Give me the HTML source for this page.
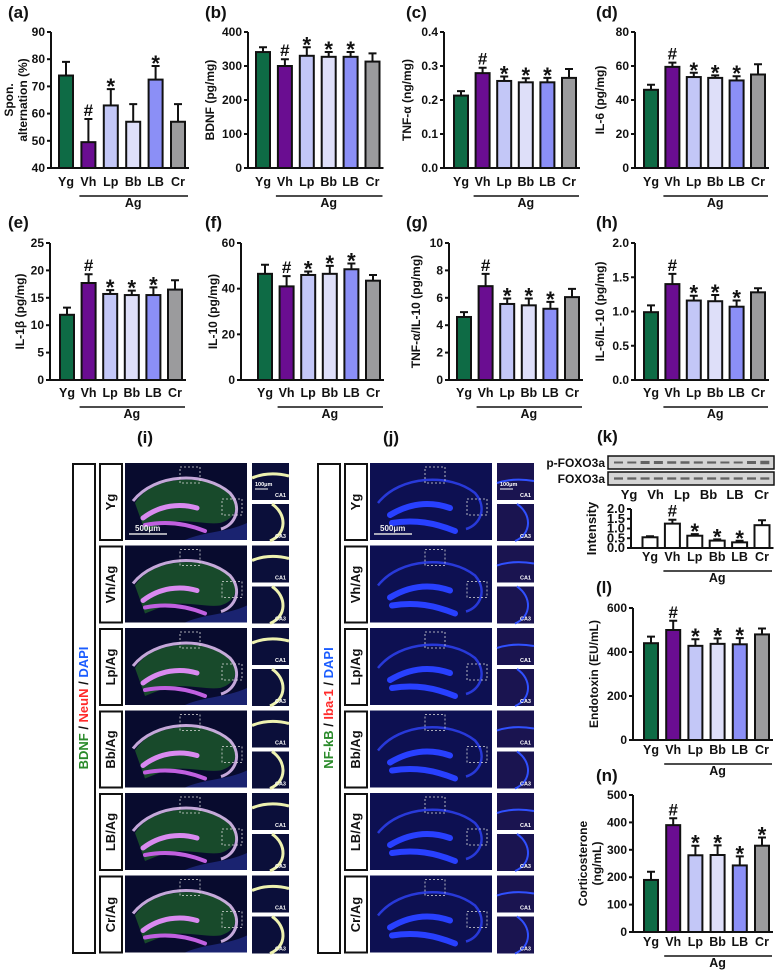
<!DOCTYPE html>
<html><head><meta charset="utf-8"><style>
html,body{margin:0;padding:0;background:#fff;}
svg{display:block;font-family:"Liberation Sans",sans-serif;font-weight:bold;}
</style></head><body>
<svg id="fig" width="777" height="971" viewBox="0 0 777 971">
<defs>
<clipPath id="imgclip"><rect width="122" height="77"/></clipPath>
</defs>
</svg>
<script>
const groups = ["Yg","Vh","Lp","Bb","LB","Cr"];
const colors = ["#0e6b45","#6a0d91","#c3c7f7","#dedff9","#8b8ff6","#9b9b9d"];
// Data per panel
const aVals=[74,49.5,63,57,72.5,57], aErr=[5,8.5,6,6.5,5,6.5], aMarks=["","#","*","","*",""];
const bVals=[341,300,330,327,327,313], bErr=[14,20,25,14,14,24], bMarks=["","#","*","*","*",""];
const cVals=[0.213,0.279,0.256,0.252,0.252,0.265], cErr=[0.013,0.016,0.013,0.012,0.013,0.026], cMarks=["","#","*","*","*",""];
const dVals=[46,59.5,53.5,53,51.5,55], dErr=[3,2.5,2.5,1.5,2.5,6], dMarks=["","#","*","*","*",""];
const eVals=[11.9,17.7,15.7,15.5,15.5,16.5], eErr=[1.3,1.6,0.7,0.8,1.4,1.7], eMarks=["","#","*","*","*",""];
const fVals=[46.5,41,46,46.5,48.5,43.5], fErr=[4,4.5,1.5,3.5,2.5,2.5], fMarks=["","#","*","*","*",""];
const gVals=[4.6,6.85,5.55,5.45,5.2,6.05], gErr=[0.35,0.9,0.4,0.5,0.5,0.6], gMarks=["","#","*","*","*",""];
const hVals=[0.99,1.4,1.16,1.15,1.07,1.28], hErr=[0.1,0.15,0.07,0.09,0.09,0.06], hMarks=["","#","*","*","*",""];
const kVals=[0.55,1.25,0.63,0.38,0.29,1.17], kErr=[0.05,0.2,0.08,0.06,0.08,0.25], kMarks=["","#","*","*","*",""];
const lVals=[440,500,428,437,435,480], lErr=[30,42,30,25,28,27], lMarks=["","#","*","*","*",""];
const nVals=[190,390,280,281,243,315], nErr=[30,25,35,35,33,30], nMarks=["","#","*","*","*","*"];
const aTicks=[40,50,60,70,80,90], bTicks=[0,100,200,300,400], cTicks=["0.0","0.1","0.2","0.3","0.4"];
const dTicks=[0,20,40,60,80], eTicks=[0,5,10,15,20,25], fTicks=[0,20,40,60], gTicks=[0,2,4,6,8,10];
const hTicks=["0.0","0.5","1.0","1.5","2.0"], kTicks=["0.0","0.5","1.0","1.5","2.0"], lTicks=[0,200,400,600], nTicks=[0,100,200,300,400,500];

const NS="http://www.w3.org/2000/svg";
const svg=document.getElementById("fig");
function mk(tag,attrs,parent,text){const e=document.createElementNS(NS,tag);for(const k in attrs)e.setAttribute(k,attrs[k]);if(text!==undefined)e.textContent=text;(parent||svg).appendChild(e);return e;}

function chart(o){
  const g=mk("g",{});
  
  
  const min=o.ticks.map(Number)[0], max=o.ticks.map(Number)[o.ticks.length-1];
  const y=v=>o.bot-(v-min)/(max-min)*(o.bot-o.top);
  const x=i=>o.x0+i*o.sp;
  const bw=o.bw||14;
  o.vals.forEach((v,i)=>{
    const cx=x(i), ey=y(v+o.err[i]);
    const eb=mk("path",{d:`M${cx} ${y(v)}V${ey}M${cx-4} ${ey}H${cx+4}`,stroke:"#111","stroke-width":2,fill:"none"},g);
    
    
    const r=mk("rect",{x:cx-bw/2,y:y(v),width:bw,height:o.bot-y(v),fill:o.white?"#fff":colors[i],stroke:"#111","stroke-width":2},g);
    
    
    if(o.marks[i]){
      const star=o.marks[i]=="*";
      const m=mk("text",{x:cx,y:star?ey+5:ey-3,"text-anchor":"middle","font-size":star?22:17,fill:"#111"},g,o.marks[i]);
      
      
    }
  });
  const ax=mk("path",{d:`M${o.ax} ${o.top}V${o.bot}H${x(5)+bw/2+4}`,stroke:"#111","stroke-width":2,fill:"none"},g);
  
  
  o.ticks.forEach(t=>{
    const ty=y(Number(t));
    mk("line",{x1:o.ax-4,x2:o.ax,y1:ty,y2:ty,stroke:"#111","stroke-width":2},g);
    const tl=mk("text",{x:o.ax-6,y:ty+4,"text-anchor":"end","font-size":o.tfs||12,fill:"#111"},g,t);
    
    
  });
  groups.forEach((n,i)=>{
    const xl=mk("text",{x:x(i),y:o.lab,"text-anchor":"middle","font-size":12.5,fill:"#111"},g,n);
    
    
  });
  const agl=mk("line",{x1:x(1)-9,x2:x(5)+10,y1:o.lab+10,y2:o.lab+10,stroke:"#111","stroke-width":1.5},g);
  
  
  const agt=mk("text",{x:(x(1)+x(5))/2,y:o.lab+21,"text-anchor":"middle","font-size":12.5,fill:"#111"},g,"Ag");
  
  
  const my=(o.top+o.bot)/2;
  o.title.forEach((t,j)=>{
    const tx=o.tx+(j-(o.title.length-1)/2)*14;
    const yt=mk("text",{x:tx,y:my,"text-anchor":"middle","font-size":o.titfs||12,fill:"#111",transform:`rotate(-90 ${tx} ${my})`},g);
    yt.textContent=t;
    
    
  });
  if(o.letter){
    const pl=mk("text",{x:o.letter[0],y:o.letter[1],"font-size":17,fill:"#111"},g,o.letter[2]);
    
    
  }
}
chart({name:"chart-a",ax:51,top:32,bot:168,x0:66,sp:22.4,vals:aVals,err:aErr,marks:aMarks,ticks:aTicks,lab:186,tx:20,title:["Spon.","alternation (%)"],letter:[8,18,"(a)"]});
chart({name:"chart-b",ax:248,top:32,bot:168,x0:263,sp:21.9,vals:bVals,err:bErr,marks:bMarks,ticks:bTicks,lab:186,tx:214,title:["BDNF (pg/mg)"],letter:[205,18,"(b)"]});
chart({name:"chart-c",ax:444,top:32,bot:168,x0:461,sp:21.6,vals:cVals,err:cErr,marks:cMarks,ticks:cTicks,lab:186,tx:411,title:["TNF-α (ng/mg)"],letter:[406,18,"(c)"]});
chart({name:"chart-d",ax:635,top:32,bot:168,x0:651,sp:21.4,vals:dVals,err:dErr,marks:dMarks,ticks:dTicks,lab:186,tx:604,title:["IL-6 (pg/mg)"],letter:[596,18,"(d)"]});
chart({name:"chart-e",ax:50,top:243,bot:380,x0:67,sp:21.6,vals:eVals,err:eErr,marks:eMarks,ticks:eTicks,lab:397,tx:24,title:["IL-1β (pg/mg)"],letter:[8,228,"(e)"]});
chart({name:"chart-f",ax:241,top:243,bot:380,x0:265,sp:21.6,vals:fVals,err:fErr,marks:fMarks,ticks:fTicks,lab:397,tx:217,title:["IL-10 (pg/mg)"],letter:[205,228,"(f)"]});
chart({name:"chart-g",ax:449,top:243,bot:380,x0:464,sp:21.6,vals:gVals,err:gErr,marks:gMarks,ticks:gTicks,lab:397,tx:420,title:["TNF-α/IL-10 (pg/mg)"],letter:[406,228,"(g)"]});
chart({name:"chart-h",ax:635,top:243,bot:380,x0:651,sp:21.4,vals:hVals,err:hErr,marks:hMarks,ticks:hTicks,lab:397,tx:604,title:["IL-6/IL-10 (pg/mg)"],letter:[596,228,"(h)"]});
chart({name:"chart-k",ax:631,top:509,bot:548,x0:650,sp:22.4,bw:15,white:true,vals:kVals,err:kErr,marks:kMarks,ticks:kTicks,tfs:13,lab:561,tx:596,titfs:13,title:["Intensity"]});
chart({name:"chart-l",ax:633,top:608,bot:740,x0:651,sp:22.2,vals:lVals,err:lErr,marks:lMarks,ticks:lTicks,lab:754,tx:598,title:["Endotoxin (EU/mL)"],letter:[596,593,"(l)"]});
chart({name:"chart-n",ax:633,top:795,bot:932,x0:651,sp:22.2,vals:nVals,err:nErr,marks:nMarks,ticks:nTicks,lab:946,tx:594,title:["Corticosterone","(ng/mL)"],letter:[596,781,"(n)"]});

// Western blot
const bl=mk("g",{});


[["p-FOXO3a",456],["FOXO3a",472]].forEach(([n,yy],k)=>{
  const st=mk("rect",{x:608,y:yy,width:166,height:13,fill:"#d4d4d4",stroke:"#111","stroke-width":1.5},bl);
  
  
  for(let i=0;i<12;i++){
    const w=k==0?[1,1,2,2,1.5,1.5,1.2,1.2,1,1,2,2.5][i]:1.3;
    mk("rect",{x:614+i*13.3,y:yy+6-w/2,width:9,height:w+1,fill:"#333",opacity:0.7},bl);
  }
  const lb=mk("text",{x:605,y:yy+11,"text-anchor":"end","font-size":12,fill:"#111"},bl,n);
  
  
});
groups.forEach((n,i)=>{const t=mk("text",{x:629+i*26.5,y:499,"text-anchor":"middle","font-size":13,fill:"#111"},bl,n);
  
  });
mk("text",{x:597,y:442,"font-size":17,fill:"#111"},svg,"(k)");

// Microscopy panels
function hippo(g,x,y,type,variant){
  const c=mk("g",{transform:`translate(${x} ${y})`},g);
  const inner=mk("g",{"clip-path":"url(#imgclip)"},c);
  mk("rect",{width:122,height:77,fill:type=="i"?"#080b2e":"#0d1052"},inner);
  if(type=="i"){
    mk("path",{d:"M10 40 C25 15,70 10,100 25 C115 35,115 55,95 60 C80 62,60 55,40 60 L20 68 Z",fill:"#1d5a2a",opacity:0.8},inner);
    mk("path",{d:"M60 77 C80 68,100 70,122 60 L122 77 Z",fill:"#1a2370"},inner);
    mk("path",{d:"M8 38 C30 10,80 8,105 30 C118 45,110 62,96 66",stroke:"#d9b8ec",fill:"none","stroke-width":3,opacity:0.9},inner);
    mk("path",{d:"M18 55 C35 42,55 40,72 45",stroke:"#d98af0","stroke-width":5,fill:"none","stroke-linecap":"round"},inner);
    mk("path",{d:"M20 62 C40 58,60 60,80 68",stroke:"#c060e0","stroke-width":4,fill:"none","stroke-linecap":"round"},inner);
  } else {
    mk("path",{d:"M8 40 C30 12,80 10,105 30 C118 45,110 62,96 66",stroke:"#2b3ee8",fill:"none","stroke-width":2.5,opacity:0.9},inner);
    mk("path",{d:"M20 52 C40 40,60 38,80 45 M22 60 C45 56,65 60,85 68",stroke:"#2840ff","stroke-width":6,fill:"none","stroke-linecap":"round"},inner);
  }
  mk("rect",{x:55,y:4,width:20,height:16,fill:"none",stroke:"#ddd","stroke-width":0.8,"stroke-dasharray":"2 2"},c);
  mk("rect",{x:97,y:36,width:20,height:16,fill:"none",stroke:"#ddd","stroke-width":0.8,"stroke-dasharray":"2 2"},c);
  if(variant==0){mk("line",{x1:4,y1:71,x2:42,y2:71,stroke:"#ddd","stroke-width":1.5},c);
    mk("text",{x:10,y:68,"font-size":8,fill:"#eee"},c,"500μm");}
}
function thumb(g,x,y,type,lab,first){
  const c=mk("g",{transform:`translate(${x} ${y})`},g);
  mk("rect",{width:37,height:37,fill:type=="i"?"#0b0f3a":"#1a1450"},c);
  if(type=="i") mk("path",{d:lab=="CA1"?"M0 15 C12 10,25 10,37 13":"M20 0 C35 10,35 30,18 37",stroke:"#eef2b0","stroke-width":3,fill:"none"},c);
  else mk("path",{d:lab=="CA1"?"M0 20 C12 16,25 16,37 18":"M20 0 C35 10,35 30,18 37",stroke:"#3050ff","stroke-width":2,fill:"none"},c);
  mk("text",{x:34,y:34,"text-anchor":"end","font-size":5.5,fill:"#fff"},c,lab);
  if(first&&lab=="CA1"){mk("text",{x:3,y:23,"font-size":5.5,fill:"#fff"},c,"100μm");mk("line",{x1:3,x2:16,y1:26,y2:26,stroke:"#fff","stroke-width":1},c);}
}
const rowNames=["Yg","Vh/Ag","Lp/Ag","Bb/Ag","LB/Ag","Cr/Ag"];
[["i",73,"BDNF","NeuN","DAPI",137],["j",318,"NF-kB","Iba-1","DAPI",383]].forEach(([t,ox,a,b,c2,lx])=>{
  const g=mk("g",{});
  
  
  mk("text",{x:lx,y:443,"font-size":17,fill:"#111"},svg,"("+t+")");
  const ob=mk("rect",{x:ox,y:464,width:22,height:489,fill:"#fff",stroke:"#111","stroke-width":2},g);
  
  
  const cx=ox+15, cy=708;
  const st=mk("text",{x:cx,y:cy,"text-anchor":"middle","font-size":13,transform:`rotate(-90 ${cx} ${cy})`},g);
  st.innerHTML=`<tspan fill="#2a8a2a">${a}</tspan><tspan fill="#111"> / </tspan><tspan fill="#ff2a2a">${b}</tspan><tspan fill="#111"> / </tspan><tspan fill="#1a5cff">${c2}</tspan>`;
  
  
  rowNames.forEach((n,r)=>{
    const yy=463+r*82.5;
    const rb=mk("rect",{x:ox+27,y:yy+1,width:22,height:76,fill:"#fff",stroke:"#111","stroke-width":2},g);
    
    
    const tx=ox+42, ty=yy+39;
    const rt=mk("text",{x:tx,y:ty,"text-anchor":"middle","font-size":13,fill:"#111",transform:`rotate(-90 ${tx} ${ty})`},g,n);
    
    
    hippo(g,ox+52,yy,t,r);
    thumb(g,ox+179,yy,t,"CA1",r==0);
    thumb(g,ox+179,yy+41,t,"CA3",r==0);
  });
});
</script>
</body></html>
